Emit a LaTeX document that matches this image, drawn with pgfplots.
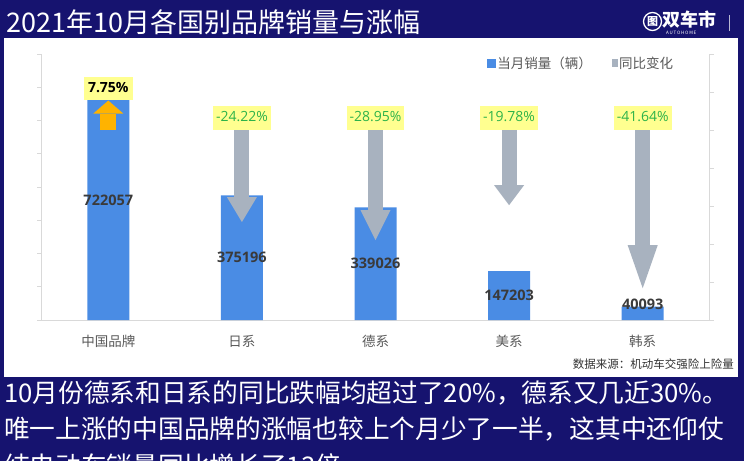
\documentclass[border=0pt]{standalone}
\usepackage{pgfplots}
\pgfplotsset{compat=1.18}
\usepackage{pgfplotstable}
\usetikzlibrary{arrows.meta}
\usepackage{fontspec}
\setmainfont{Noto Sans CJK SC}
\newfontfamily\numfont{Open Sans}
\definecolor{navy}{HTML}{16136F}
\definecolor{barblue}{HTML}{4A8CE4}
\definecolor{arrgray}{HTML}{A8B2BF}
\definecolor{upor}{HTML}{FFB300}
\definecolor{lblyellow}{HTML}{FFFF90}
\definecolor{lblgreen}{HTML}{2DB34A}
\definecolor{axgray}{HTML}{D9D9D9}
\definecolor{txtgray}{HTML}{595959}
\definecolor{numdark}{HTML}{3A3A3A}

\pgfplotstableread{
x vol lab
0 722057 722057
1 375196 375196
2 339026 339026
3 147203 147203
4 40093 40093
}\sales

\begin{document}
\begin{tikzpicture}[x=1pt,y=1pt]
\useasboundingbox (0,0) rectangle (744,461);
\clip (0,0) rectangle (744,461);
\fill[navy] (0,0) rectangle (744,461);
\fill[white] (4,84) rectangle (738,423);

\begin{axis}[
  at={(41.5pt,141pt)}, anchor=south west,
  width=668pt, height=266pt, scale only axis,
  xmin=-0.5, xmax=4.5, ymin=0, ymax=800000,
  axis x line*=bottom, axis y line*=left,
  axis line style={axgray, line width=0.8pt},
  xtick={0,1,2,3,4}, xticklabels={中国品牌,日系,德系,美系,韩系},
  x tick style={draw=none},
  xticklabel style={font=\fontsize{13.5}{16}\selectfont, text=txtgray, yshift=-8pt},
  ytick={0,100000,200000,300000,400000,500000,600000,700000,800000}, yticklabels={},
  y tick style={axgray, line width=0.8pt}, tick align=outside, major tick length=4pt,
  scaled y ticks=false,
  legend style={draw=none, fill=none, at={(0.662,0.966)}, anchor=west,
    font=\fontsize{13.5}{16}\selectfont, text=txtgray,
    /tikz/every even column/.append style={column sep=18pt}},
  legend columns=2, legend cell align=left,
]
\addplot[ybar, bar width=42pt, fill=barblue, draw=none, forget plot] table[x=x,y=vol]{\sales};
\addplot[draw=none, mark=none, forget plot, nodes near coords={\pgfplotspointmeta}, point meta=explicit symbolic,
  nodes near coords style={anchor=center, font=\numfont\bfseries\fontsize{14.5}{16}\selectfont, text=numdark}]
  table[x=x, y expr={max(\thisrow{vol}/2,48000)}, meta=lab]{\sales};
\addlegendimage{legend image code/.code={\fill[barblue] (0pt,-4pt) rectangle (8pt,4pt);}}
\addlegendentry{当月销量（辆）}
\addlegendimage{legend image code/.code={\fill[arrgray] (2pt,-3.5pt) rectangle (7pt,3.5pt);}}
\addlegendentry{同比变化}
\end{axis}

\begin{axis}[
  at={(41.5pt,141pt)}, anchor=south west,
  width=668pt, height=266pt, scale only axis,
  xmin=-0.5, xmax=4.5, ymin=-50, ymax=20,
  axis y line*=right, axis x line=none,
  axis line style={axgray, line width=0.8pt},
  xtick=\empty,
  ytick={-50,-40,-30,-20,-10,0,10,20}, yticklabels={},
  y tick style={axgray, line width=0.8pt}, tick align=outside, major tick length=4pt,
  clip=false,
]
\addplot[quiver={u=0,v=\thisrow{d}}, upor, line width=16pt,
  -{Triangle[width=30pt,length=13pt,line width=0pt]}] table[row sep=\\]{x y d\\ 0 0 7.75\\};
\addplot[quiver={u=0,v=\thisrow{d}}, arrgray, line width=15pt,
  -{Triangle[width=30pt,length=25pt,line width=0pt]}] table[row sep=\\]{x y d\\ 1 0 -24.22\\};
\addplot[quiver={u=0,v=\thisrow{d}}, arrgray, line width=15pt,
  -{Triangle[width=30pt,length=30pt,line width=0pt]}] table[row sep=\\]{x y d\\ 2 0 -28.95\\};
\addplot[quiver={u=0,v=\thisrow{d}}, arrgray, line width=15pt,
  -{Triangle[width=30pt,length=20pt,line width=0pt]}] table[row sep=\\]{x y d\\ 3 0 -19.78\\};
\addplot[quiver={u=0,v=\thisrow{d}}, arrgray, line width=15pt,
  -{Triangle[width=30pt,length=43pt,line width=0pt]}] table[row sep=\\]{x y d\\ 4 0 -41.64\\};
\addplot[draw=none, mark=none, nodes near coords={\pgfplotspointmeta\%}, point meta=explicit symbolic,
  nodes near coords style={anchor=south, fill=lblyellow, text=black, font=\numfont\bfseries\fontsize{14}{16}\selectfont,
    inner xsep=4.5pt, inner ysep=5pt, text height=10.5pt, text depth=3pt}]
  table[row sep=\\, meta=lab]{x y lab\\ 0 7.75 7.75\\};
\addplot[draw=none, mark=none, nodes near coords={\pgfplotspointmeta\%}, point meta=explicit symbolic,
  nodes near coords style={anchor=south, fill=lblyellow, text=lblgreen, font=\numfont\fontsize{14}{16}\selectfont,
    inner xsep=3pt, inner ysep=5pt, text height=10.5pt, text depth=3pt}]
  table[row sep=\\, meta=lab]{x y lab\\ 1 0 -24.22\\ 2 0 -28.95\\ 3 0 -19.78\\ 4 0 -41.64\\};
\end{axis}

\node[anchor=east, inner sep=0, font=\fontsize{11.5}{13}\selectfont, text=black!80] at (734,97) {数据来源：机动车交强险上险量};

\node[anchor=west, inner sep=0, text=white, font=\fontsize{27}{30}\selectfont] at (6,439) {2021年10月各国别品牌销量与涨幅};

% logo
\draw[white, line width=1.3pt] (652.5,439.5) circle (9);
\node[text=white, inner sep=0, font=\bfseries\fontsize{11}{12}\selectfont] at (652.5,439.5) {图};
\node[anchor=west, text=white, inner sep=0, font=\bfseries\fontsize{18}{20}\selectfont] at (662,441) {双车市};
\node[anchor=west, text=white, inner sep=0, font=\fontsize{4.5}{5}\selectfont] at (666,428.5) {A\,U\,T\,O\,H\,O\,M\,E};
\draw[white!70!navy, line width=0.6pt] (729,430) -- (729,446);

% commentary
\node[anchor=west, inner sep=0, text=white, font=\fontsize{25.7}{30}\selectfont] at (4,68) {10月份德系和日系的同比跌幅均超过了20\%，德系又几近30\%。};
\node[anchor=west, inner sep=0, text=white, font=\fontsize{25.7}{30}\selectfont] at (4,31.5) {唯一上涨的中国品牌的涨幅也较上个月少了一半，这其中还仰仗};
\node[anchor=west, inner sep=0, text=white, font=\fontsize{25.7}{30}\selectfont] at (4,-5) {纯电动车销量同比增长了13倍。};
\end{tikzpicture}
\end{document}
